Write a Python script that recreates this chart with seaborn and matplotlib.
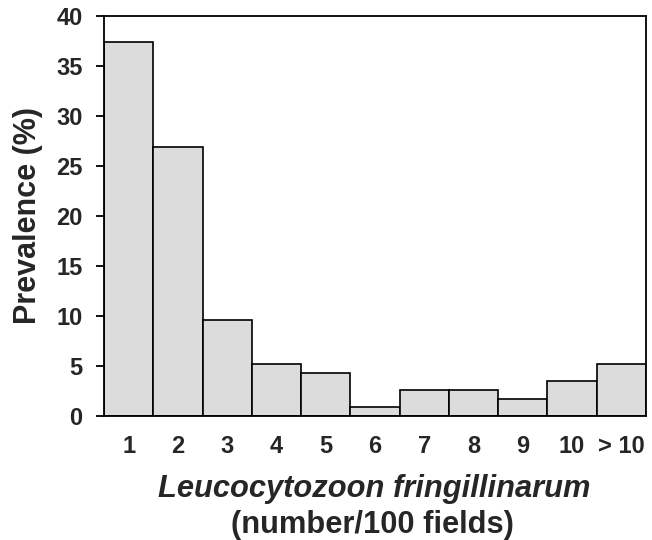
import matplotlib
matplotlib.use("Agg")
import matplotlib.pyplot as plt
import seaborn as sns
import pandas as pd

categories = ["1", "2", "3", "4", "5", "6", "7", "8", "9", "10", "> 10"]
prevalence = [37.4, 26.9, 9.6, 5.2, 4.3, 0.9, 2.6, 2.6, 1.7, 3.5, 5.2]
yticks = [0, 5, 10, 15, 20, 25, 30, 35, 40]

sns.set_theme(style="white")
plt.rcParams['font.family'] = ['Liberation Sans', 'DejaVu Sans']

df = pd.DataFrame({"cat": categories, "val": prevalence})

W, H = 652, 540
fig = plt.figure(figsize=(W / 100, H / 100), dpi=100)
ax = fig.add_axes([104 / W, 1 - 416 / H, (646 - 104) / W, (416 - 16) / H])
sns.barplot(data=df, x="cat", y="val", order=categories, color="#dcdcdc",
            saturation=1, width=1.0, edgecolor="black", linewidth=1.2, ax=ax)

ax.set_xlim(-0.5, len(categories) - 0.5)
ax.set_ylim(0, 40)
ax.set_yticks(yticks)
ax.set_yticklabels([str(t) for t in yticks], fontsize=17, fontweight="bold")
ax.set_xticklabels(categories, fontsize=17, fontweight="bold")
for s in ax.spines.values():
    s.set_visible(True)
    s.set_color("black")
    s.set_linewidth(1.3)
ax.tick_params(axis="y", direction="out", length=5.5, width=1.3, color="black", pad=10, left=True)
ax.tick_params(axis="x", length=0, pad=14)
ax.set_xlabel("")
ax.set_ylabel("")

fig.text(28 / W, 1 - 216 / H, "Prevalence (%)", ha="center", va="center", rotation=90,
         fontsize=22, fontweight="bold")
fig.text(374 / W, 1 - 497 / H, "Leucocytozoon fringillinarum", ha="center", va="baseline",
         fontsize=22.2, fontweight="bold", fontstyle="italic")
fig.text(372 / W, 1 - 533 / H, "(number/100 fields)", ha="center", va="baseline",
         fontsize=22.2, fontweight="bold")

fig.savefig("out.png", dpi=100)
